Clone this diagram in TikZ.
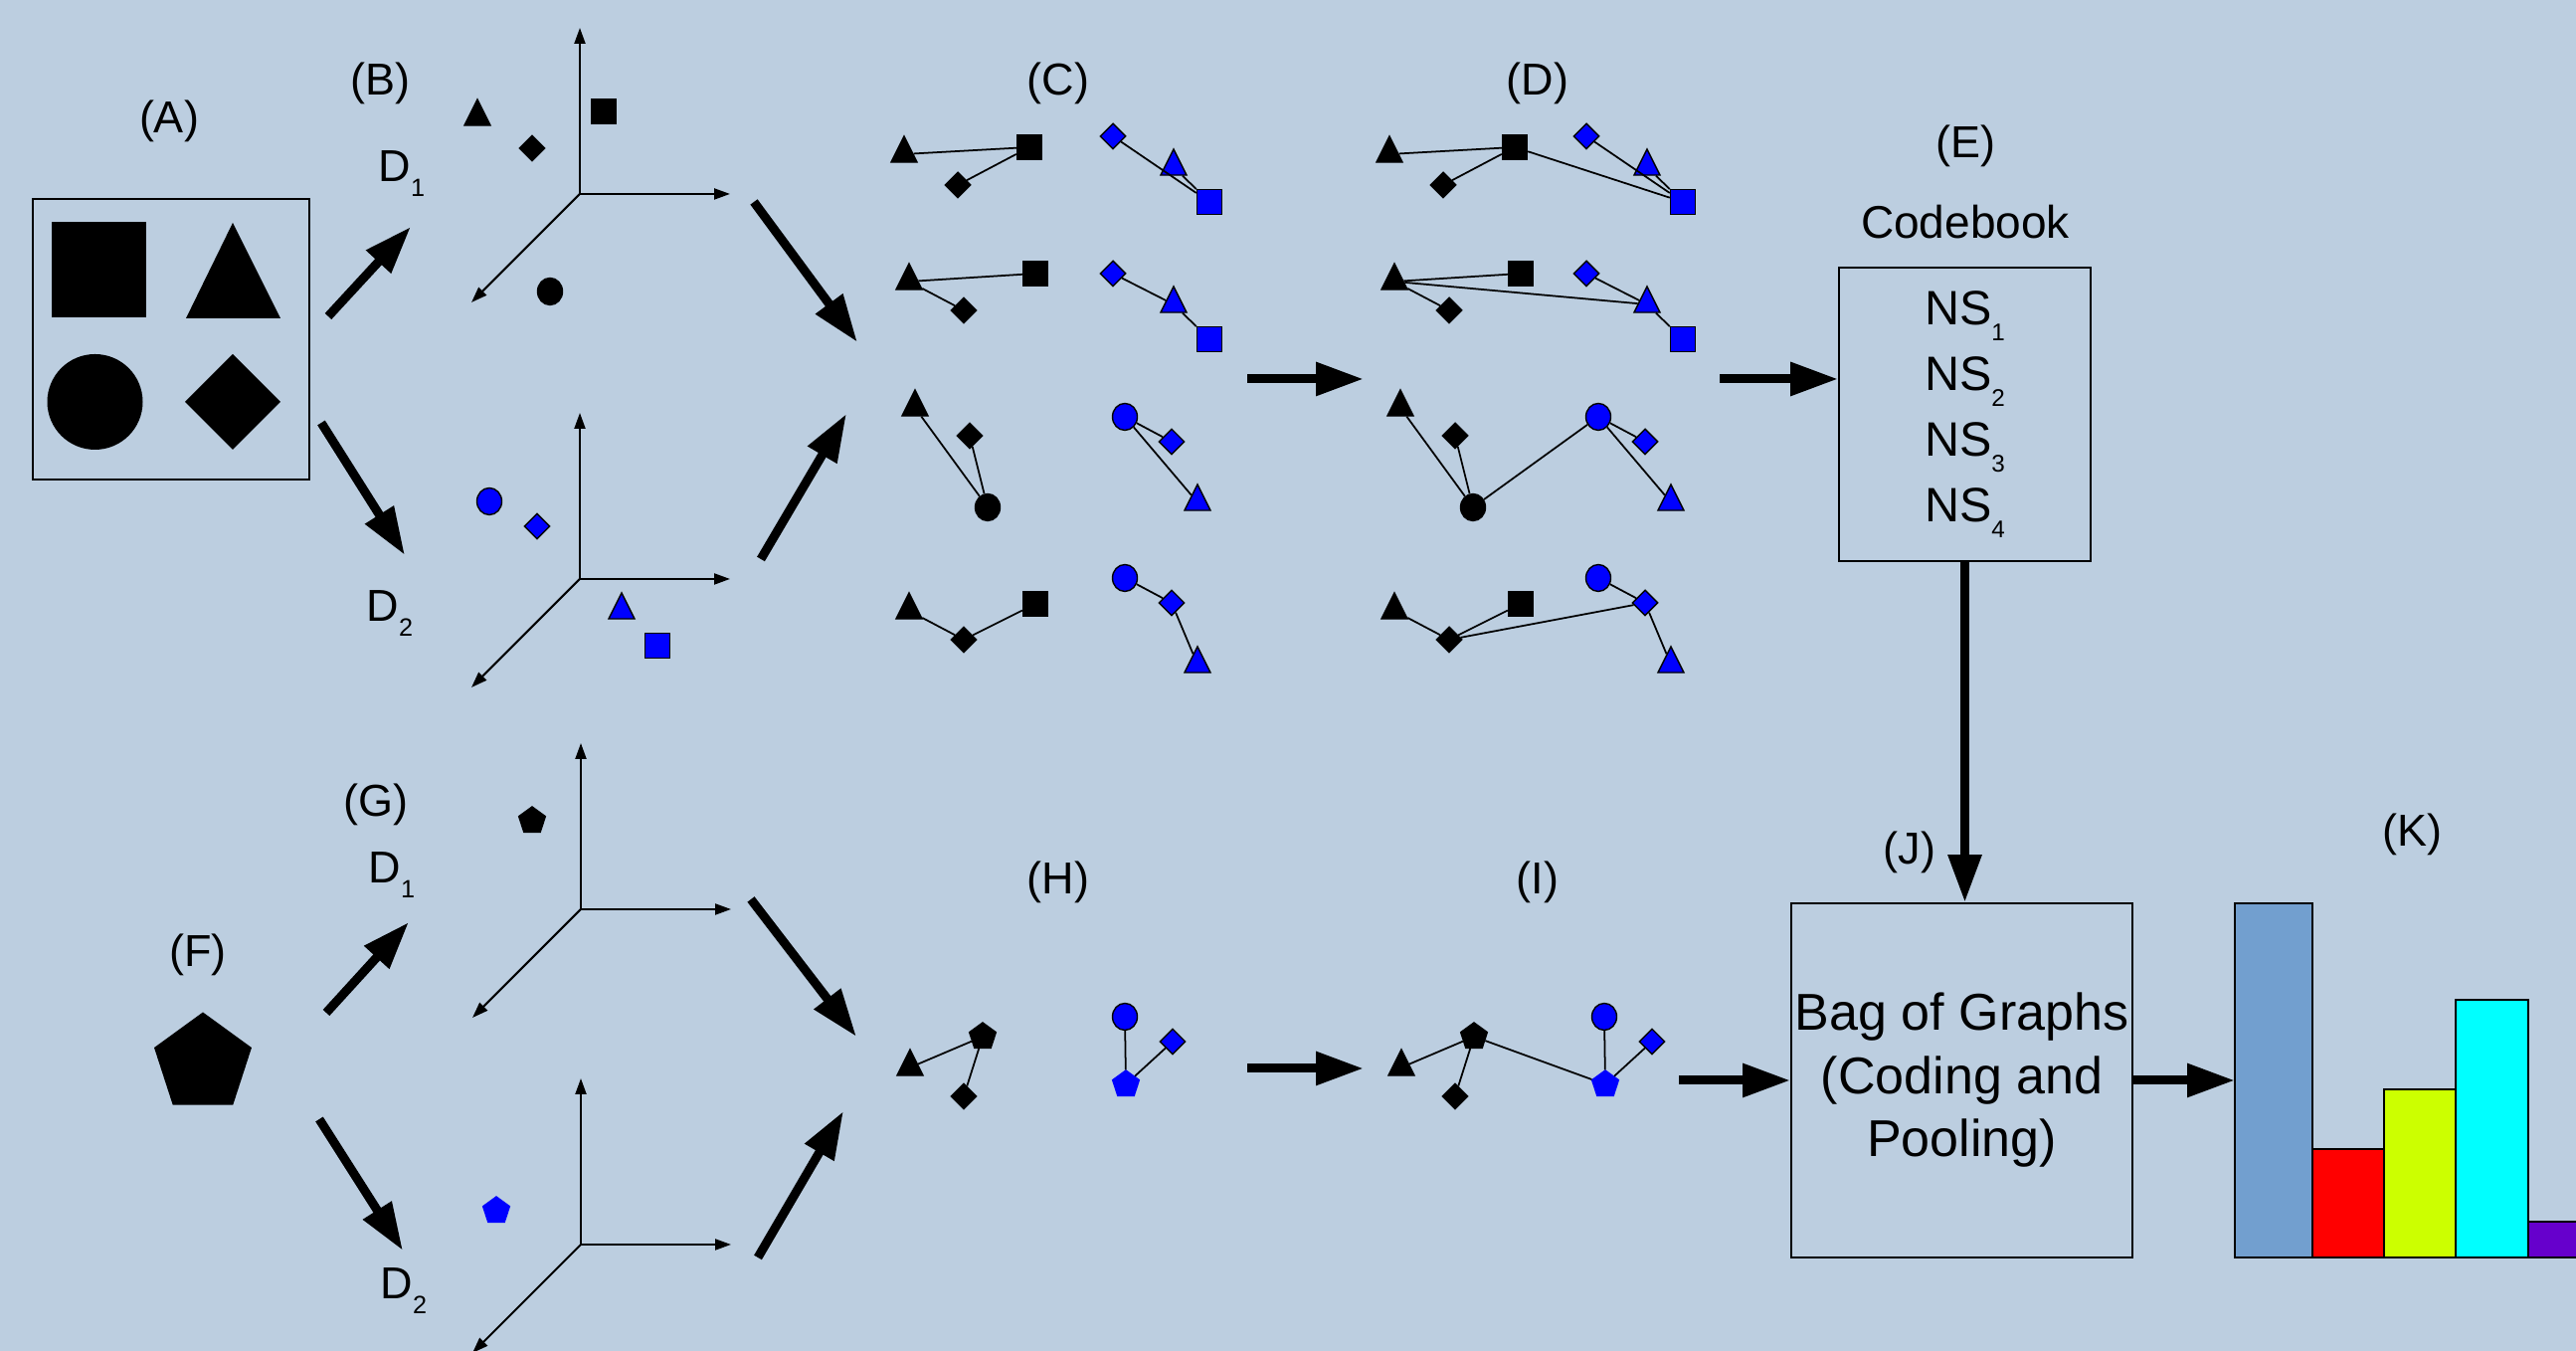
\documentclass[tikz,border=0pt]{standalone}
\usepackage{fontspec}
\setmainfont{Liberation Sans}
\usepackage{tikz}
\usetikzlibrary{arrows.meta}
\usetikzlibrary{shapes.geometric}
\usetikzlibrary{backgrounds}
\definecolor{bgblue}{RGB}{188,206,224}
\definecolor{barblue}{RGB}{114,159,207}
\definecolor{barlime}{RGB}{204,255,0}
\definecolor{barcyan}{RGB}{0,255,255}
\definecolor{barviolet}{RGB}{102,0,204}
\newcommand{\lowsub}[2][0.56]{\raisebox{-0.33em}{\scalebox{#1}{#2}}}
\newcommand{\tagfont}{\fontsize{12.8}{15}\selectfont}

\begin{document}
\begin{tikzpicture}[show background rectangle,inner frame sep=0pt,
  background rectangle/.style={fill=bgblue},
  shp/.style={inner sep=0pt,draw=black,line width=0.4pt},
  blk/.style={fill=black},
  blu/.style={fill=blue},
  sq/.style={shp,rectangle,minimum size=0.25cm},
  dia/.style={shp,diamond,minimum size=0.26cm},
  tri/.style={shp,isosceles triangle,isosceles triangle stretches,shape border rotate=90,minimum width=0.26cm,minimum height=0.26cm},
  circ/.style={shp,ellipse,minimum width=0.25cm,minimum height=0.27cm},
  pent/.style={shp,regular polygon,regular polygon sides=5,minimum size=0.28cm},
  lnk/.style={line width=0.5pt},
  ax/.style={-{Triangle[length=0.16cm,width=0.11cm]},line width=0.6pt},
  bigarr/.style={-{Triangle[length=0.48cm,width=0.32cm]},line width=0.09cm},
  box/.style={draw,line width=0.5pt,inner sep=0pt},
  lbl/.style={font=\tagfont,inner sep=0pt}]
\useasboundingbox (0,0) rectangle (25.9,13.58);

% step labels
\node[lbl] (labA) at (1.70,12.36) {(A)};
\node[lbl] (labB) at (3.82,12.74) {(B)};
\node[lbl] (labC) at (10.64,12.74) {(C)};
\node[lbl] (labD) at (15.46,12.74) {(D)};
\node[lbl] (labE) at (19.76,12.11) {(E)};
\node[lbl] (labF) at (1.99,3.98) {(F)};
\node[lbl] (labG) at (3.78,5.49) {(G)};
\node[lbl] (labH) at (10.64,4.71) {(H)};
\node[lbl] (labI) at (15.46,4.71) {(I)};
\node[lbl] (labJ) at (19.20,5.01) {(J)};
\node[lbl] (labK) at (24.25,5.19) {(K)};
\node[lbl,anchor=base west] (dB1) at (3.80,11.75) {D\lowsub{1}};
\node[lbl,anchor=base west] (dB2) at (3.68,7.33) {D\lowsub{2}};
\node[lbl,anchor=base west] (dG1) at (3.70,4.70) {D\lowsub{1}};
\node[lbl,anchor=base west] (dG2) at (3.82,0.52) {D\lowsub{2}};

% training image
\node[box,minimum width=2.78cm,minimum height=2.82cm] (boxA) at (1.72,10.17) {};
\fill (0.52,11.35) rectangle (1.47,10.39);
\fill (1.87,10.38) -- (2.82,10.38) -- (2.34,11.34) -- cycle;
\fill (0.955,9.54) circle (0.48);
\fill (2.34,10.02) -- (2.82,9.54) -- (2.34,9.06) -- (1.86,9.54) -- cycle;

% test image
\fill (2.04,2.89) +(90:0.515) -- +(162:0.515) -- +(234:0.515) -- +(306:0.515) -- +(18:0.515) -- cycle;

% descriptor spaces
\coordinate (oB1) at (5.83,11.63);
\coordinate (oB2) at (5.83,7.76);
\coordinate (oG1) at (5.84,4.44);
\coordinate (oG2) at (5.84,1.07);
\foreach \o in {oB1,oB2,oG1,oG2}
{
    \draw[ax] (\o) -- ++(0,1.67);
    \draw[ax] (\o) -- ++(1.51,0);
    \draw[ax] (\o) -- ++(-1.09,-1.09);
}
\node[tri,blk] (bTri) at (4.80,12.40) {};
\node[dia,blk] (bDia) at (5.35,12.09) {};
\node[sq,blk] (bSq) at (6.07,12.46) {};
\node[circ,blk] (bCirc) at (5.53,10.65) {};
\node[circ,blu] (bBCirc) at (4.92,8.54) {};
\node[dia,blu] (bBDia) at (5.40,8.29) {};
\node[tri,blu] (bBTri) at (6.25,7.44) {};
\node[sq,blu] (bBSq) at (6.61,7.09) {};
\node[pent,blk] (gPent) at (5.35,5.33) {};
\node[pent,blu,draw=blue] (gBPent) at (4.99,1.41) {};

% neighbourhood subgraphs, (C) and (D)
\foreach \p/\kx/\bx in {c/0/0,d/4.88/4.76}
{
    \node[tri,blk] (\p1tri) at (9.09+\kx,12.03) {};
    \node[sq,blk] (\p1sq) at (10.35+\kx,12.10) {};
    \node[dia,blk] (\p1dia) at (9.63+\kx,11.72) {};
    \node[dia,blu] (\p1bdia) at (11.19+\bx,12.21) {};
    \node[tri,blu] (\p1btri) at (11.80+\bx,11.90) {};
    \node[sq,blu] (\p1bsq) at (12.16+\bx,11.55) {};
    \draw[lnk] (\p1tri) -- (\p1sq) (\p1dia) -- (\p1sq) (\p1bdia) -- (\p1bsq) (\p1btri) -- (\p1bsq);

    \node[tri,blk] (\p2tri) at (9.14+\kx,10.75) {};
    \node[sq,blk] (\p2sq) at (10.41+\kx,10.83) {};
    \node[dia,blk] (\p2dia) at (9.69+\kx,10.46) {};
    \node[dia,blu] (\p2bdia) at (11.19+\bx,10.83) {};
    \node[tri,blu] (\p2btri) at (11.80+\bx,10.52) {};
    \node[sq,blu] (\p2bsq) at (12.16+\bx,10.17) {};
    \draw[lnk] (\p2tri) -- (\p2sq) (\p2tri) -- (\p2dia) (\p2bdia) -- (\p2btri) (\p2btri) -- (\p2bsq);

    \node[tri,blk] (\p3tri) at (9.20+\kx,9.48) {};
    \node[dia,blk] (\p3dia) at (9.75+\kx,9.20) {};
    \node[circ,blk] (\p3circ) at (9.93+\kx,8.48) {};
    \node[circ,blu] (\p3bcirc) at (11.31+\bx,9.39) {};
    \node[dia,blu] (\p3bdia) at (11.78+\bx,9.14) {};
    \node[tri,blu] (\p3btri) at (12.04+\bx,8.53) {};
    \draw[lnk] (\p3tri) -- (\p3circ) (\p3dia) -- (\p3circ) (\p3bcirc) -- (\p3bdia) (\p3bcirc) -- (\p3btri);

    \node[tri,blk] (\p4tri) at (9.14+\kx,7.44) {};
    \node[dia,blk] (\p4dia) at (9.69+\kx,7.15) {};
    \node[sq,blk] (\p4sq) at (10.41+\kx,7.51) {};
    \node[circ,blu] (\p4bcirc) at (11.31+\bx,7.77) {};
    \node[dia,blu] (\p4bdia) at (11.78+\bx,7.52) {};
    \node[tri,blu] (\p4btri) at (12.04+\bx,6.90) {};
    \draw[lnk] (\p4tri) -- (\p4dia) (\p4dia) -- (\p4sq) (\p4bcirc) -- (\p4bdia) (\p4bdia) -- (\p4btri);
}
% links between the two spaces
\draw[lnk] (d1sq) -- (d1bsq) (d2tri) -- (d2btri) (d3circ) -- (d3bcirc) (d4dia) -- (d4bdia);

% test subgraphs, (H) and (I)
\foreach \p/\kx/\bx in {h/0/0,i/4.94/4.82}
{
    \node[tri,blk] (\p tri) at (9.15+\kx,2.85) {};
    \node[pent,blk] (\p pent) at (9.88+\kx,3.16) {};
    \node[dia,blk] (\p dia) at (9.69+\kx,2.56) {};
    \node[circ,blu] (\p bcirc) at (11.31+\bx,3.36) {};
    \node[dia,blu] (\p bdia) at (11.79+\bx,3.11) {};
    \node[pent,blu,draw=blue] (\p bpent) at (11.32+\bx,2.68) {};
    \draw[lnk] (\p tri) -- (\p pent) (\p pent) -- (\p dia) (\p bcirc) -- (\p bpent) (\p bdia) -- (\p bpent);
}
\draw[lnk] (ipent) -- (ibpent);

% codebook and bag of graphs
\node[lbl] (cbtitle) at (19.76,11.35) {\fontsize{13.1}{15}\selectfont Codebook};
\node[box,minimum width=2.53cm,minimum height=2.95cm,align=center,font=\fontsize{13.8}{18.8}\selectfont] (cbook) at (19.755,9.415)
    {NS\lowsub[0.5]{1}\\NS\lowsub[0.5]{2}\\NS\lowsub[0.5]{3}\\NS\lowsub[0.5]{4}};
\node[box,minimum width=3.43cm,minimum height=3.56cm,align=center,font=\fontsize{14.8}{18.07}\selectfont] (bog) at (19.725,2.72)
    {Bag of Graphs\\(Coding and\\Pooling)};

% histogram
\foreach \xa/\xb/\yt/\col in {22.47/23.25/4.50/barblue,23.25/23.97/2.03/red,23.97/24.69/2.63/barlime,24.69/25.42/3.53/barcyan,25.42/26.15/1.30/barviolet}
{
    \filldraw[fill=\col,draw=black,line width=0.5pt] (\xa,0.94) rectangle (\xb,\yt);
}
\coordinate (hist) at (22.47,2.72);

% flow arrows
\coordinate (ab1s) at (3.30,10.40); \coordinate (ab1e) at (4.13,11.30);
\coordinate (ab2s) at (3.23,9.33);  \coordinate (ab2e) at (4.07,8.00);
\coordinate (bc1s) at (7.58,11.55); \coordinate (bc1e) at (8.62,10.14);
\coordinate (bc2s) at (7.65,7.96);  \coordinate (bc2e) at (8.51,9.42);
\coordinate (cds) at (12.54,9.77);  \coordinate (cde) at (13.71,9.77);
\coordinate (des) at (17.29,9.77);
\coordinate (fg1s) at (3.28,3.40);  \coordinate (fg1e) at (4.11,4.31);
\coordinate (fg2s) at (3.21,2.33);  \coordinate (fg2e) at (4.05,1.01);
\coordinate (gh1s) at (7.55,4.54);  \coordinate (gh1e) at (8.61,3.16);
\coordinate (gh2s) at (7.62,0.94);  \coordinate (gh2e) at (8.48,2.41);
\coordinate (his) at (12.54,2.84);  \coordinate (hie) at (13.71,2.84);
\coordinate (ijs) at (16.88,2.72);
\draw[bigarr] (ab1s) -- (ab1e);
\draw[bigarr] (ab2s) -- (ab2e);
\draw[bigarr] (bc1s) -- (bc1e);
\draw[bigarr] (bc2s) -- (bc2e);
\draw[bigarr] (cds) -- (cde);
\draw[bigarr] (des) -- (des -| cbook.west);
\draw[bigarr] (cbook.south) -- (cbook.south |- bog.north);
\draw[bigarr] (fg1s) -- (fg1e);
\draw[bigarr] (fg2s) -- (fg2e);
\draw[bigarr] (gh1s) -- (gh1e);
\draw[bigarr] (gh2s) -- (gh2e);
\draw[bigarr] (his) -- (hie);
\draw[bigarr] (ijs) -- (ijs -| bog.west);
\draw[bigarr] (bog.east) -- (hist);
\end{tikzpicture}
\end{document}
